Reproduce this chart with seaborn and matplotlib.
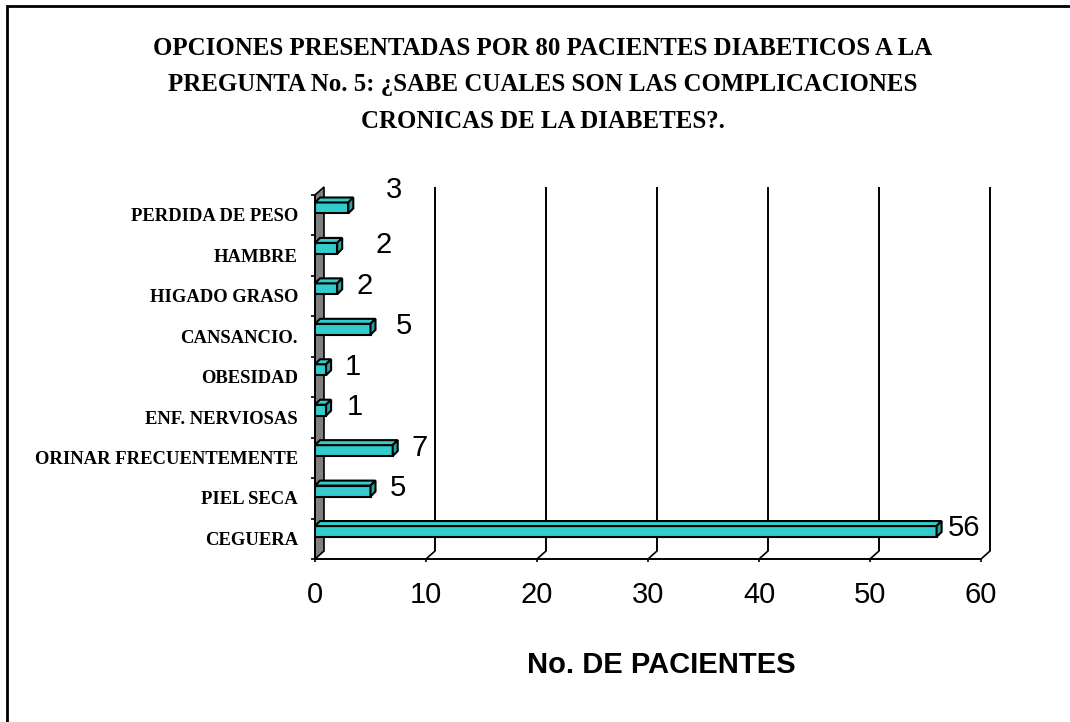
import numpy as np
import pandas as pd
import matplotlib
matplotlib.use("Agg")
import matplotlib.pyplot as plt
from matplotlib.patches import Polygon, Rectangle
import seaborn as sns

# Answers given by the 80 patients
categorias = ["PERDIDA DE PESO", "HAMBRE", "HIGADO GRASO", "CANSANCIO.",
              "OBESIDAD", "ENF. NERVIOSAS", "ORINAR FRECUENTEMENTE",
              "PIEL SECA", "CEGUERA"]
pacientes = [3, 2, 2, 5, 1, 1, 7, 5, 56]
x_ticks = [0, 10, 20, 30, 40, 50, 60]

titulo = ("OPCIONES PRESENTADAS POR 80 PACIENTES DIABETICOS A LA\n"
          "PREGUNTA No. 5: ¿SABE CUALES SON LAS COMPLICACIONES\n"
          "CRONICAS DE LA DIABETES?.")
eje_x = "No. DE PACIENTES"

# small nudges (pixels) for a couple of value labels
nudge_x = [19, 19, 0, 6, 0, 2, 0, 0, 0]
nudge_y = [15, 0, 0, 0, 0, 0, 0, 0, 0]

sns.set_theme(style="white")
plt.rcParams["font.family"] = ["Liberation Sans", "DejaVu Sans"]

W, H = 1070, 722
fig = plt.figure(figsize=(W / 100, H / 100), dpi=100)
fig.patch.set_facecolor("white")

# plot area (front plane)
x0_px, x1_px = 315, 981
top_px, bot_px = 195, 559
ax = fig.add_axes([x0_px / W, 1 - bot_px / H, (x1_px - x0_px) / W, (bot_px - top_px) / H])
ax.set_facecolor("none")

df = pd.DataFrame({"cat": categorias, "n": pacientes})
sns.barplot(data=df, x="n", y="cat", orient="h", color="#33CCCC", saturation=1,
            width=0.27, edgecolor="black", linewidth=1.5, ax=ax)
bars = list(ax.patches)

ytop, ybot = -0.32, 8.68
ax.set_xlim(0, 60)
ax.set_ylim(ybot, ytop)

# pixel -> data conversion for the depth offsets
p0 = ax.transData.transform((0, 0))
p1 = ax.transData.transform((1, 1))
sx, sy = p1[0] - p0[0], p1[1] - p0[1]
def off(dx_px, dy_px):
    return dx_px / sx, dy_px / sy

wdx, wdy = off(9, 8)   # depth of the back wall
bdx, bdy = off(5, 5)   # depth of each bar

# left wall
wall = Polygon([(0, ybot), (0, ytop), (wdx, ytop + wdy), (wdx, ybot + wdy)],
               closed=True, facecolor="#808080", edgecolor="black", lw=1.2,
               zorder=1.5, clip_on=False)
ax.add_patch(wall)

# back-wall gridlines and floor diagonals
for k in x_ticks[1:]:
    ax.plot([k + wdx, k + wdx], [ybot + wdy, ytop + wdy], color="black", lw=1.4,
            zorder=1, clip_on=False, solid_capstyle="butt")
    ax.plot([k, k + wdx], [ybot, ybot + wdy], color="black", lw=1.2,
            zorder=1, clip_on=False)

# 3D faces of the bars
for b in bars:
    b.set_zorder(3)
    x = b.get_x(); w = b.get_width()
    y = b.get_y(); h = b.get_height()
    yt = min(y, y + h)  # upper edge (axis is inverted)
    yb = max(y, y + h)
    top = Polygon([(x, yt), (x + w, yt), (x + w + bdx, yt + bdy), (x + bdx, yt + bdy)],
                  closed=True, facecolor="#33CCCC", edgecolor="black", lw=1.5,
                  zorder=3, clip_on=False)
    side = Polygon([(x + w, yb), (x + w, yt), (x + w + bdx, yt + bdy), (x + w + bdx, yb + bdy)],
                   closed=True, facecolor="#28A4A4", edgecolor="black", lw=1.5,
                   zorder=3, clip_on=False)
    ax.add_patch(top)
    ax.add_patch(side)

# value labels
for i, v in enumerate(pacientes):
    ax.annotate(str(v), xy=(v, i), xytext=(27 + nudge_x[i], 3 + nudge_y[i]),
                textcoords="offset pixels", ha="center", va="center",
                fontsize=21, color="black", zorder=5, annotation_clip=False)

# axes styling
for s in ["top", "right"]:
    ax.spines[s].set_visible(False)
for s in ["left", "bottom"]:
    ax.spines[s].set_color("black")
    ax.spines[s].set_linewidth(1.4)
    ax.spines[s].set_zorder(2)

ax.set_xticks(x_ticks, labels=[str(t) for t in x_ticks])
ax.tick_params(axis="x", direction="out", length=2.5, width=1.2, color="black",
               pad=13, labelsize=21, labelcolor="black", bottom=True)

ax.set_yticks(np.arange(len(categorias)) + 0.17,
              labels=categorias, fontfamily="Liberation Serif",
              fontweight="bold", fontsize=13.4)
ax.set_yticks(np.arange(len(categorias) + 1) + ytop, minor=True)
ax.tick_params(axis="y", which="major", length=0, pad=12.2, labelcolor="black")
ax.tick_params(axis="y", which="minor", direction="out", length=3, width=1.2,
               color="black", left=True)
ax.set_ylabel("")

ax.set_xlabel(eje_x, fontsize=21, fontweight="bold", color="black")
ax.xaxis.label.set_va("center")
ax.xaxis.set_label_coords((661 - x0_px) / (x1_px - x0_px), -(665 - bot_px) / (bot_px - top_px))

fig.text(543 / W, 1 - 85 / H, titulo, ha="center", va="center",
         fontfamily="Liberation Serif", fontweight="bold", fontsize=17.9,
         linespacing=1.76, color="black")

# chart border
fig.patches.append(Rectangle((7 / W, -0.1), 1.2, 1 - 6 / H + 0.1, transform=fig.transFigure,
                             fill=False, edgecolor="black", lw=2, zorder=10))

fig.savefig("out.png", dpi=100, facecolor="white")
